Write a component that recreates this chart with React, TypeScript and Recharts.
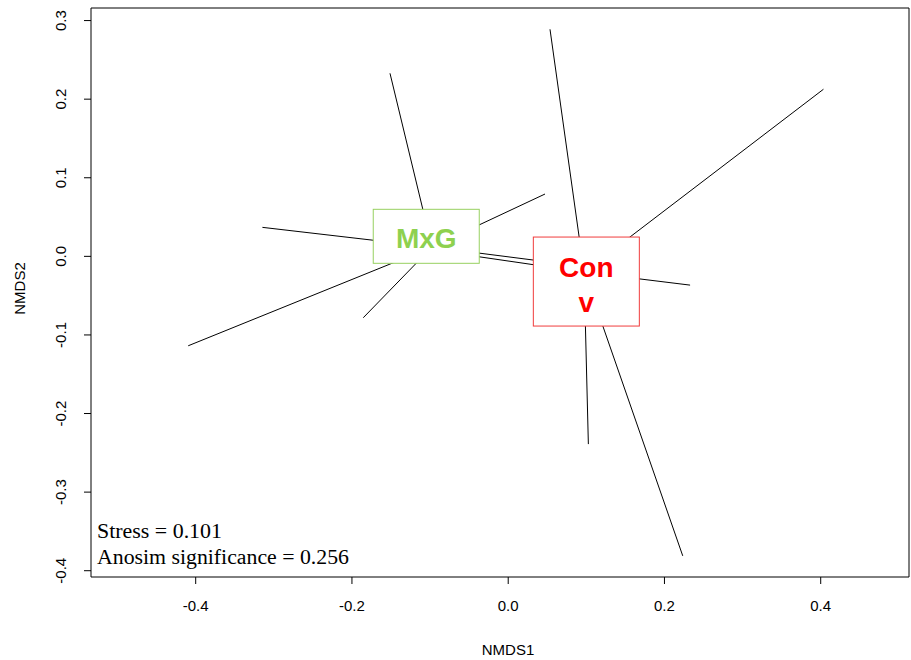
import React from "react";
import {
  ScatterChart, Scatter, XAxis, YAxis, ReferenceArea, ReferenceDot, Label,
} from "recharts";

type Pt = { x: number; y: number };

// NMDS site scores
const mxgCentroid: Pt = { x: -0.0976, y: 0.0118 };
const mxgSites: Pt[] = [
  { x: -0.1513, y: 0.2329 },
  { x: 0.0471, y: 0.0793 },
  { x: -0.3146, y: 0.0369 },
  { x: -0.4096, y: -0.1138 },
  { x: -0.1855, y: -0.0781 },
  { x: 0.0919, y: -0.0123 },
];

const convCentroid: Pt = { x: 0.0971, y: -0.02 };
const convSites: Pt[] = [
  { x: 0.0535, y: 0.2889 },
  { x: 0.4035, y: 0.2126 },
  { x: 0.2328, y: -0.0366 },
  { x: 0.1026, y: -0.2389 },
  { x: 0.2234, y: -0.3811 },
  { x: -0.0873, y: 0.0067 },
];

// group label positions (ordilabel)
const mxgLabel: Pt = { x: -0.1049, y: 0.0255 };
const convLabel: Pt = { x: 0.1, y: -0.0327 };

const xTicks = [-0.4, -0.2, 0, 0.2, 0.4];
const yTicks = [-0.4, -0.3, -0.2, -0.1, 0, 0.1, 0.2, 0.3];
const X_DOMAIN = [-0.534, 0.513];
const Y_DOMAIN = [-0.408, 0.316];

const stressText = "Stress = 0.101";
const anosimText = "Anosim significance = 0.256";

const SANS = "'Liberation Sans', Arial, sans-serif";
const SERIF = "'Liberation Serif', 'Times New Roman', serif";

const spokes = [
  ...mxgSites.map((p) => [mxgCentroid, p]),
  ...convSites.map((p) => [convCentroid, p]),
];

const noDot = () => <g />;

function YTick({ x, y, payload }: any) {
  return (
    <text
      x={x}
      y={y}
      transform={`rotate(-90, ${x}, ${y})`}
      textAnchor="middle"
      dominantBaseline="central"
      fontSize={15}
      fontFamily={SANS}
      fill="#000"
    >
      {Number(payload.value).toFixed(1)}
    </text>
  );
}

function MxgBox({ cx, cy }: any) {
  return (
    <g>
      <rect x={cx - 53} y={cy - 27} width={106} height={54} fill="#fff" stroke="#97d160" strokeWidth={1} />
      <text x={cx} y={cy + 12} textAnchor="middle" fontSize={28} fontWeight="bold" fontFamily={SANS} fill="#8ed14f">
        MxG
      </text>
    </g>
  );
}

function ConvBox({ cx, cy }: any) {
  return (
    <g>
      <rect x={cx - 53} y={cy - 45} width={106} height={89} fill="#fff" stroke="#f03c3c" strokeWidth={1} />
      <text x={cx} y={cy - 4.7} textAnchor="middle" fontSize={28} fontWeight="bold" fontFamily={SANS} fill="#ff0000">
        Con
      </text>
      <text x={cx} y={cy + 29.7} textAnchor="middle" fontSize={28} fontWeight="bold" fontFamily={SANS} fill="#ff0000">
        v
      </text>
    </g>
  );
}

function StatsText({ cx, cy }: any) {
  return (
    <g fontFamily={SERIF} fontSize={20.5} fill="#000">
      <text x={cx + 6} y={cy - 39} textLength={125} lengthAdjust="spacingAndGlyphs">{stressText}</text>
      <text x={cx + 6} y={cy - 13} textLength={252} lengthAdjust="spacingAndGlyphs">{anosimText}</text>
    </g>
  );
}

export default function App() {
  return (
    <div style={{ position: "absolute", left: 0, top: 0, background: "#fff" }}>
      <ScatterChart width={911} height={660} margin={{ top: 8, right: 2, bottom: 0, left: 0 }}>
        <XAxis
          type="number"
          dataKey="x"
          domain={X_DOMAIN}
          ticks={xTicks}
          allowDataOverflow
          tickFormatter={(v: number) => v.toFixed(1)}
          tickSize={7}
          tickMargin={16}
          height={83}
          axisLine={false}
          tickLine={{ stroke: "#000" }}
          tick={{ fill: "#000", fontSize: 15, fontFamily: SANS }}
        >
          <Label
            content={({ viewBox }: any) => (
              <text
                x={viewBox.x + viewBox.width / 2 + 8}
                y={viewBox.y + 78}
                textAnchor="middle"
                fontSize={15}
                fontFamily={SANS}
                fill="#000"
              >
                NMDS1
              </text>
            )}
          />
        </XAxis>
        <YAxis
          type="number"
          dataKey="y"
          domain={Y_DOMAIN}
          ticks={yTicks}
          allowDataOverflow
          width={91}
          tickSize={7}
          tickMargin={23}
          axisLine={false}
          tickLine={{ stroke: "#000" }}
          tick={<YTick />}
        >
          <Label
            content={({ viewBox }: any) => {
              const x = 19;
              const y = viewBox.y + viewBox.height / 2 - 4;
              return (
                <text
                  x={x}
                  y={y}
                  transform={`rotate(-90, ${x}, ${y})`}
                  textAnchor="middle"
                  dominantBaseline="central"
                  fontSize={15}
                  fontFamily={SANS}
                  fill="#000"
                >
                  NMDS2
                </text>
              );
            }}
          />
        </YAxis>
        <ReferenceArea
          x1={X_DOMAIN[0]}
          x2={X_DOMAIN[1]}
          y1={Y_DOMAIN[0]}
          y2={Y_DOMAIN[1]}
          fill="none"
          stroke="#000"
          strokeWidth={1}
          ifOverflow="visible"
        />
        {spokes.map((seg, i) => (
          <Scatter
            key={i}
            data={seg}
            line={{ stroke: "#000", strokeWidth: 1 }}
            shape={noDot}
            isAnimationActive={false}
          />
        ))}
        <ReferenceDot x={mxgLabel.x} y={mxgLabel.y} shape={MxgBox} ifOverflow="visible" />
        <ReferenceDot x={convLabel.x} y={convLabel.y} shape={ConvBox} ifOverflow="visible" />
        <ReferenceDot x={X_DOMAIN[0]} y={Y_DOMAIN[0]} shape={StatsText} ifOverflow="visible" />
      </ScatterChart>
    </div>
  );
}
